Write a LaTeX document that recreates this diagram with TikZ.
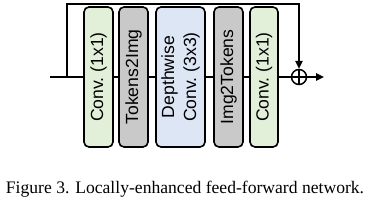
\documentclass[tikz,border=0pt]{standalone}
\usepackage{fontspec}
\setmainfont{Liberation Serif}
\newfontfamily\labelfont{Liberation Sans}
\usetikzlibrary{arrows.meta,positioning,calc}
\definecolor{convGreen}{RGB}{226,239,217}
\definecolor{reshapeGray}{RGB}{201,201,201}
\definecolor{dwBlue}{RGB}{220,230,244}
\begin{document}
\begin{tikzpicture}[
      x=1pt,y=1pt,
      layerbox/.style={draw=black,line width=1.6pt,rounded corners=5pt,rotate=90,minimum width=140pt,align=center,
        inner sep=0pt,font=\labelfont\fontsize{17.6}{22}\selectfont},
      flow/.style={line width=1.5pt,black},
      arr/.style={flow,-{Triangle[length=8pt,width=7.5pt]}}
    ]
    \useasboundingbox (0,0) rectangle (375,-201);
    % layers of the feed-forward block
    \foreach \n/\x/\w/\c/\t in {b1/98.5/29/convGreen/{Conv.\ (1x1)},b2/133.5/29/reshapeGray/Tokens2Img,
        b3/180.5/49/dwBlue/{Depthwise\\Conv.\ (3x3)},b4/228.5/29/reshapeGray/Img2Tokens,b5/264/28/convGreen/{Conv.\ (1x1)}}{
      \node[layerbox,fill=\c,minimum height=\w pt] (\n) at (\x,-77) {\t};
    }
    \coordinate (in) at (50,-77);
    \coordinate (split) at (67,-77);
    \node[circle,draw,line width=1.5pt,minimum size=15pt,inner sep=0pt] (sum) at (299,-77) {};
    \draw[line width=1.3pt] (sum.north)--(sum.south) (sum.west)--(sum.east);
    \coordinate (out) at (324,-77);
    \draw[flow] (in)--(b1); \draw[flow] (b1)--(b2); \draw[flow] (b2)--(b3); \draw[flow] (b3)--(b4);
    \draw[flow] (b4)--(b5); \draw[flow] (b5)--(sum);
    \draw[arr] (sum)--(out);
    % residual path
    \draw[arr,line join=miter] (split)--++(0,73)-|(sum.north);
    \node[anchor=base,inner sep=0pt,font=\fontsize{17.6}{21}\selectfont] (caption) at (185,-193)
      {Figure 3. Locally-enhanced feed-forward network.};
  \end{tikzpicture}
\end{document}
